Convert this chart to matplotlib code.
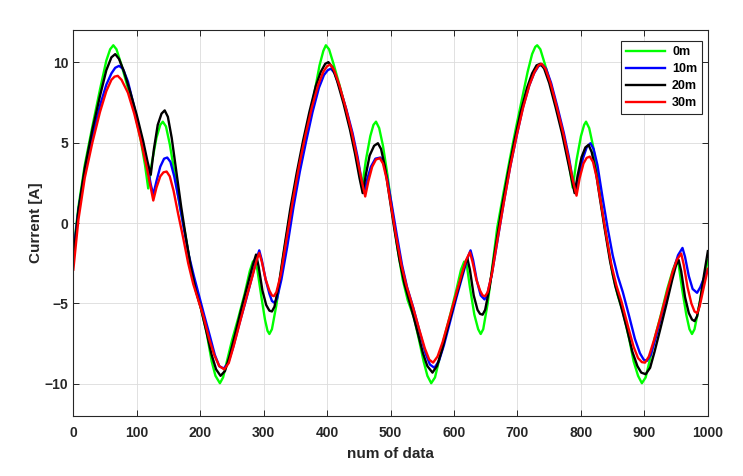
import matplotlib
matplotlib.use("Agg")
import matplotlib.pyplot as plt

# values
x_0m = [0, 8, 18, 30, 42, 52, 58, 63, 68, 76, 86, 96, 106, 113, 118, 124, 131, 137, 141, 146, 152, 160, 168, 176, 184,
        192, 200, 210, 218, 224, 231, 236, 242, 250, 260, 270, 278, 283, 286, 290, 296, 302, 306, 309, 313, 320, 330,
        340, 350, 360, 370, 380, 388, 394, 398, 403, 410, 420, 430, 440, 448, 455, 461, 468, 473, 477, 482, 488, 495,
        503, 511, 519, 527, 537, 545, 552, 558, 564, 570, 576, 584, 594, 604, 611, 616, 620, 625, 632, 638, 642, 646,
        653, 660, 668, 678, 688, 698, 708, 716, 723, 728, 731, 736, 743, 753, 763, 773, 781, 787, 793, 800, 805, 808,
        813, 819, 826, 834, 842, 850, 858, 866, 876, 883, 890, 896, 902, 908, 916, 926, 936, 945, 950, 954, 959, 966,
        971, 975, 979, 986, 993, 1000]
y_0m = [-1.8, 1.0, 3.6, 6.0, 8.3, 10.1, 10.8, 11.05, 10.8, 9.8, 8.4, 7.0, 5.2, 3.6, 2.15, 3.8, 5.3, 6.1, 6.3, 6.0, 4.9,
        3.0, 1.0, -0.6, -2.5, -4.0, -5.1, -6.8, -8.6, -9.5, -9.96, -9.6, -8.6, -7.3, -5.9, -4.4, -3.0, -2.4, -2.3, -2.9,
        -4.5, -6.0, -6.7, -6.9, -6.6, -5.1, -2.3, 0.2, 2.2, 4.2, 6.2, 8.1, 9.8, 10.7, 11.05, 10.8, 9.9, 8.5, 7.0, 5.3,
        3.7, 2.2, 3.9, 5.4, 6.1, 6.3, 5.9, 4.8, 3.0, 0.6, -1.6, -3.5, -4.8, -5.9, -7.3, -8.6, -9.5, -9.96, -9.6, -8.6,
        -7.2, -5.7, -4.1, -2.9, -2.4, -2.6, -4.0, -5.7, -6.6, -6.9, -6.6, -5.0, -2.8, -0.3, 1.9, 4.0, 6.0, 7.9, 9.4,
        10.5, 10.95, 11.05, 10.8, 9.9, 8.5, 7.0, 5.3, 3.7, 2.2, 3.9, 5.4, 6.1, 6.3, 5.9, 4.8, 3.0, 0.6, -1.3, -3.2,
        -4.5, -5.5, -7.2, -8.6, -9.5, -9.96, -9.6, -8.6, -7.2, -5.7, -4.1, -2.9, -2.4, -2.6, -4.0, -5.7, -6.6, -6.9,
        -6.6, -5.2, -3.6, -2.3]

x_10m = [0, 8, 18, 30, 42, 52, 60, 66, 72, 78, 86, 96, 106, 116, 122, 126, 131, 137, 143, 148, 153, 159, 166, 174, 182,
         190, 198, 206, 215, 223, 230, 237, 244, 252, 262, 272, 282, 289, 293, 297, 303, 309, 313, 317, 321, 328, 337,
         347, 357, 367, 377, 387, 395, 401, 406, 412, 420, 430, 440, 448, 454, 458, 463, 469, 476, 484, 489, 495, 502,
         510, 518, 526, 536, 546, 555, 562, 569, 576, 584, 594, 604, 614, 621, 626, 630, 636, 642, 648, 652, 659, 668,
         678, 688, 698, 708, 718, 726, 733, 739, 745, 753, 763, 773, 781, 787, 792, 797, 803, 809, 815, 820, 826, 834,
         842, 850, 858, 866, 876, 885, 893, 899, 904, 910, 918, 928, 938, 946, 953, 960, 964, 970, 976, 983, 988, 994,
         1000]
y_10m = [-1.9, 0.8, 3.2, 5.4, 7.3, 8.6, 9.3, 9.65, 9.77, 9.6, 8.8, 7.2, 5.5, 3.7, 2.4, 1.76, 2.6, 3.5, 4.0, 4.07, 3.8,
         2.9, 1.5, -0.3, -2.0, -3.3, -4.5, -5.7, -7.0, -8.2, -8.9, -9.05, -8.7, -7.7, -6.2, -4.8, -3.3, -2.2, -1.7,
         -2.3, -3.5, -4.4, -4.85, -4.96, -4.7, -3.5, -1.5, 1.0, 3.2, 5.1, 6.9, 8.4, 9.2, 9.5, 9.6, 9.3, 8.4, 7.1, 5.6,
         4.1, 2.7, 1.86, 2.7, 3.5, 4.0, 4.07, 3.7, 2.7, 1.1, -0.8, -2.6, -4.0, -5.3, -6.8, -8.1, -8.8, -9.0, -8.6, -7.6,
         -6.1, -4.6, -3.2, -2.2, -1.7, -2.3, -3.6, -4.5, -4.75, -4.5, -3.3, -1.2, 1.2, 3.4, 5.3, 7.1, 8.5, 9.3, 9.75,
         9.85, 9.6, 8.7, 7.2, 5.6, 4.1, 2.7, 1.86, 2.9, 4.0, 4.7, 4.96, 4.6, 3.6, 1.6, -0.3, -2.0, -3.3, -4.3, -5.8,
         -7.2, -8.1, -8.5, -8.57, -8.2, -7.1, -5.6, -4.1, -2.9, -2.0, -1.55, -2.1, -3.3, -4.1, -4.34, -4.0, -3.4, -2.9]

x_20m = [0, 8, 18, 30, 42, 52, 60, 66, 72, 80, 90, 100, 110, 117, 122, 127, 133, 139, 144, 149, 155, 162, 170, 177, 185,
         193, 201, 210, 218, 225, 232, 239, 246, 255, 265, 275, 283, 288, 292, 298, 304, 309, 313, 317, 324, 333, 342,
         352, 362, 372, 382, 390, 397, 402, 408, 416, 426, 436, 444, 451, 456, 461, 467, 474, 480, 485, 491, 498, 506,
         514, 522, 532, 542, 551, 558, 566, 573, 581, 590, 600, 610, 617, 621, 625, 631, 637, 641, 645, 649, 656, 665,
         675, 685, 695, 705, 715, 723, 730, 736, 742, 750, 760, 770, 778, 785, 790, 795, 801, 807, 812, 817, 823, 830,
         838, 846, 854, 862, 872, 881, 889, 895, 902, 909, 916, 925, 935, 944, 950, 954, 958, 964, 970, 975, 979, 983,
         988, 994, 1000]
y_20m = [-2.2, 0.8, 3.4, 5.8, 7.9, 9.5, 10.3, 10.5, 10.2, 9.4, 8.1, 6.7, 5.1, 3.8, 3.0, 4.6, 6.1, 6.8, 7.0, 6.6, 5.3,
         3.3, 1.0, -0.8, -2.7, -4.2, -5.3, -6.8, -8.2, -9.1, -9.5, -9.2, -8.3, -6.9, -5.3, -3.8, -2.6, -1.96, -2.7,
         -4.2, -5.1, -5.45, -5.5, -5.2, -3.8, -1.4, 0.9, 3.1, 5.1, 6.9, 8.5, 9.4, 9.9, 10.0, 9.7, 8.8, 7.4, 5.8, 4.3,
         2.8, 1.86, 3.0, 4.2, 4.8, 4.96, 4.6, 3.5, 1.7, -0.4, -2.3, -3.8, -5.2, -6.7, -8.1, -8.9, -9.3, -8.9, -7.9,
         -6.5, -5.0, -3.6, -2.6, -2.2, -2.9, -4.5, -5.4, -5.65, -5.7, -5.4, -4.0, -1.6, 0.9, 3.1, 5.1, 6.9, 8.4, 9.3,
         9.8, 9.9, 9.6, 8.7, 7.2, 5.6, 4.1, 2.8, 1.86, 3.0, 4.1, 4.7, 4.86, 4.4, 3.3, 1.5, -0.5, -2.4, -3.9, -5.0,
         -6.5, -8.0, -8.9, -9.3, -9.4, -9.0, -8.0, -6.6, -5.0, -3.5, -2.6, -2.3, -3.0, -4.6, -5.6, -6.0, -6.1, -5.8,
         -4.8, -3.2, -1.75]

x_30m = [0, 8, 18, 30, 42, 52, 60, 65, 70, 76, 86, 96, 106, 116, 122, 126, 131, 137, 142, 147, 152, 158, 165, 173, 181,
         189, 197, 205, 214, 222, 230, 238, 245, 253, 263, 273, 283, 289, 293, 297, 303, 309, 313, 316, 320, 327, 336,
         346, 356, 366, 376, 386, 394, 400, 405, 411, 419, 429, 439, 447, 454, 460, 465, 471, 477, 483, 488, 494, 501,
         509, 517, 525, 535, 545, 554, 561, 567, 574, 582, 592, 602, 612, 619, 625, 629, 635, 641, 645, 649, 653, 660,
         669, 679, 689, 699, 709, 719, 727, 733, 738, 744, 752, 762, 772, 780, 787, 793, 798, 804, 809, 814, 819, 825,
         832, 840, 848, 856, 864, 874, 883, 890, 896, 901, 907, 915, 925, 935, 944, 951, 958, 962, 968, 974, 979, 983,
         987, 993, 1000]
y_30m = [-2.9, 0.2, 2.8, 5.0, 6.9, 8.2, 8.9, 9.1, 9.15, 8.9, 8.1, 6.8, 5.2, 3.4, 2.2, 1.4, 2.2, 2.9, 3.15, 3.2, 2.9,
         2.0, 0.6, -0.9, -2.5, -3.8, -4.8, -5.8, -7.2, -8.2, -8.9, -9.1, -8.7, -7.6, -6.1, -4.6, -3.2, -2.3, -1.86,
         -2.4, -3.5, -4.2, -4.5, -4.55, -4.3, -3.2, -1.0, 1.4, 3.6, 5.5, 7.2, 8.6, 9.4, 9.75, 9.85, 9.5, 8.6, 7.2, 5.6,
         4.1, 2.7, 1.65, 2.6, 3.5, 3.95, 4.03, 3.7, 2.7, 1.0, -0.9, -2.6, -3.9, -5.2, -6.6, -7.8, -8.5, -8.68, -8.3,
         -7.4, -6.0, -4.6, -3.2, -2.3, -1.82, -2.4, -3.5, -4.2, -4.5, -4.55, -4.3, -3.1, -0.9, 1.4, 3.6, 5.5, 7.2, 8.6,
         9.4, 9.8, 9.9, 9.6, 8.7, 7.2, 5.6, 4.1, 2.7, 1.7, 2.8, 3.7, 4.05, 4.13, 3.8, 2.8, 1.1, -0.8, -2.6, -3.9, -4.9,
         -6.4, -7.7, -8.4, -8.65, -8.68, -8.3, -7.3, -5.9, -4.4, -3.1, -2.3, -1.9, -2.6, -4.0, -5.0, -5.5, -5.6, -5.2,
         -4.1, -2.85]

labels = ["0m", "10m", "20m", "30m"]
colors = ["#00ff00", "#0000ff", "#000000", "#ff0000"]
xticks = [0, 100, 200, 300, 400, 500, 600, 700, 800, 900, 1000]
yticks = [-10, -5, 0, 5, 10]

plt.rcParams['font.family'] = ['Liberation Sans', 'DejaVu Sans']
dark = "#262626"

fig = plt.figure(figsize=(7.43, 4.76), dpi=100)
ax = fig.add_axes([0.0987, 0.126, 0.854, 0.811])

series = [(x_0m, y_0m), (x_10m, y_10m), (x_20m, y_20m), (x_30m, y_30m)]
for (xs, ys), lab, col in zip(series, labels, colors):
    ax.plot(xs, ys, color=col, lw=1.7, label=lab, solid_joinstyle="round")

ax.set_xlim(0, 1000)
ax.set_ylim(-12, 12)
ax.set_xticks(xticks)
ax.set_yticks(yticks)
ax.grid(True, color="#dcdcdc", lw=0.6)
ax.set_axisbelow(True)
ax.tick_params(direction="in", length=4, width=0.7, colors=dark, top=True, right=True, labelsize=10)
ax.tick_params(axis="x", pad=7)
for t in ax.get_xticklabels() + ax.get_yticklabels():
    t.set_fontweight("bold")
for s in ax.spines.values():
    s.set_color(dark)
    s.set_linewidth(0.8)

ax.set_xlabel("num of data", fontsize=11, fontweight="bold", color=dark, labelpad=5)
ax.set_ylabel("Current [A]", fontsize=11, fontweight="bold", color=dark, labelpad=1)

leg = ax.legend(loc="upper right", bbox_to_anchor=(0.991, 0.971), borderaxespad=0, fancybox=False,
                prop={"weight": "bold", "size": 9}, handlelength=3.1, labelspacing=0.4,
                borderpad=0.4, handletextpad=0.55, framealpha=1)
leg.get_frame().set_edgecolor(dark)
leg.get_frame().set_linewidth(0.8)

fig.savefig("out.png", dpi=100)
